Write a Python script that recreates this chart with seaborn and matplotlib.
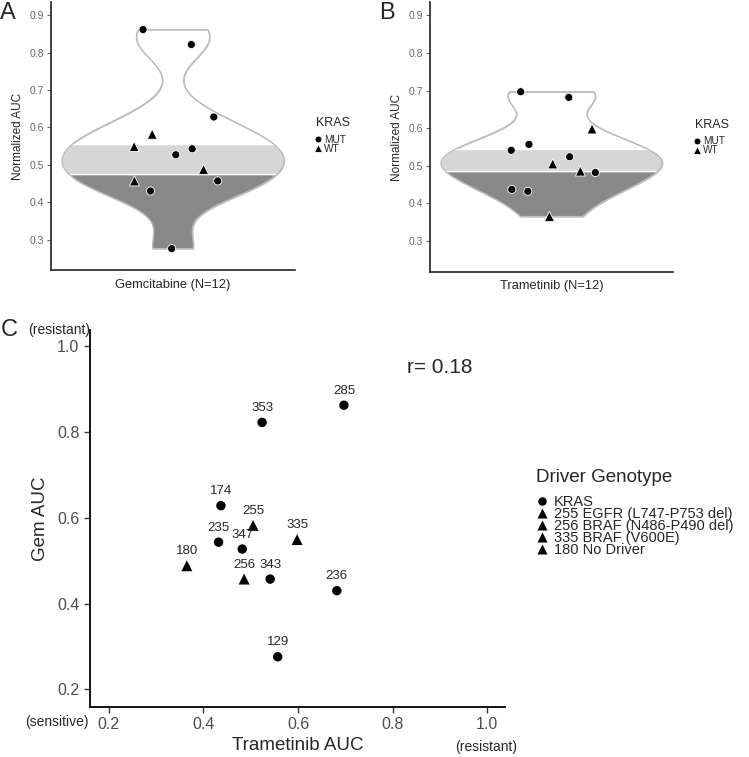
import numpy as np
import pandas as pd
import seaborn as sns
import matplotlib.pyplot as plt
from matplotlib.patches import Rectangle, PathPatch


# values, one entry per cell line
samples = ['285', '353', '174', '255', '235', '347', '335', '180', '256', '343', '236', '129']
gem_auc = [0.862, 0.822, 0.628, 0.582, 0.543, 0.527, 0.549, 0.488, 0.457, 0.457, 0.430, 0.276]
tram_auc = [0.697, 0.524, 0.437, 0.505, 0.432, 0.482, 0.598, 0.365, 0.486, 0.541, 0.682, 0.557]
kras = ['MUT', 'MUT', 'MUT', 'WT', 'MUT', 'MUT', 'WT', 'WT', 'WT', 'MUT', 'MUT', 'MUT']
driver = ['KRAS', 'KRAS', 'KRAS', '255 EGFR (L747-P753 del)', 'KRAS', 'KRAS',
          '335 BRAF (V600E)', '180 No Driver', '256 BRAF (N486-P490 del)', 'KRAS', 'KRAS', 'KRAS']
driver_order = ['KRAS', '255 EGFR (L747-P753 del)', '256 BRAF (N486-P490 del)',
                '335 BRAF (V600E)', '180 No Driver']

# horizontal jitter of the dots inside the violins
jitter_gem = [-0.108, 0.066, 0.147, -0.075, 0.069, 0.010, -0.140, 0.110, -0.139, 0.161, -0.081, -0.005]
jitter_tram = [-0.112, 0.065, -0.144, 0.004, -0.086, 0.158, 0.146, -0.008, 0.104, -0.146, 0.062, -0.082]

# shaded bands of the violins: (low, mid, high)
gem_bands = [0.276, 0.476, 0.556]
tram_bands = [0.365, 0.485, 0.545]

r_value = 0.18

df = pd.DataFrame({
    'sample': samples,
    'gem': gem_auc,
    'tram': tram_auc,
    'KRAS': kras,
    'Driver Genotype': driver,
    'jit_gem': jitter_gem,
    'jit_tram': jitter_tram,
})


def nrd0_factor(kde):
    # R's bw.nrd0 expressed as a scipy bandwidth factor
    x = kde.dataset.ravel()
    sd = x.std(ddof=1)
    q75, q25 = np.percentile(x, [75, 25])
    h = 0.9 * min(sd, (q75 - q25) / 1.34) * len(x) ** -0.2
    return h / sd


def violin_panel(ax, col, jcol, bands, xlabel, letter, leg_x, title_y, leg_y):
    sns.violinplot(y=df[col], ax=ax, cut=0, inner=None, color='white',
                   linecolor='#bcbcbc', linewidth=0.9, bw_method=nrd0_factor)
    poly = ax.collections[0]
    path = poly.get_paths()[0]
    lo, mid, hi = bands
    for y0, y1, fc in [(lo, mid, '#898989'), (mid, hi, '#d6d6d6')]:
        r = Rectangle((-0.5, y0), 1.0, y1 - y0, facecolor=fc, edgecolor='white',
                      linewidth=1, zorder=1.5)
        ax.add_patch(r)
        r.set_clip_path(path, ax.transData)
    ax.add_patch(PathPatch(path, facecolor='none', edgecolor='#bcbcbc', linewidth=0.9, zorder=2))

    sns.scatterplot(data=df, x=jcol, y=col, style='KRAS', style_order=['MUT', 'WT'],
                    markers={'MUT': 'o', 'WT': '^'}, size='KRAS', size_order=['MUT', 'WT'],
                    sizes={'MUT': 34, 'WT': 52}, color='black', edgecolor='white',
                    linewidth=0.6, ax=ax, zorder=3)

    ax.set_xlim(-0.44, 0.44)
    ax.set_ylim(0.218, 0.935)
    ax.set_yticks([0.3, 0.4, 0.5, 0.6, 0.7, 0.8, 0.9])
    ax.set_xticks([])
    ax.set_xlabel(xlabel, fontsize=9.3, labelpad=6)
    ax.set_ylabel('Normalized AUC', fontsize=8.5, labelpad=4)
    ax.tick_params(axis='y', labelsize=7.5, labelcolor='#666666', color='#666666',
                   length=3, width=0.8, pad=2)
    for s in ['top', 'right']:
        ax.spines[s].set_visible(False)
    for s in ['left', 'bottom']:
        ax.spines[s].set_color('#222222')
        ax.spines[s].set_linewidth(1.2)

    h, l = ax.get_legend_handles_labels()
    ax.legend(h, l, loc='upper left', bbox_to_anchor=(leg_x, leg_y),
              frameon=False, fontsize=7.2, handletextpad=0.1, handlelength=1.0,
              labelspacing=-0.1, borderpad=0, borderaxespad=0, markerscale=0.85)
    ax.text(leg_x + 0.01, title_y, 'KRAS', transform=ax.transAxes, fontsize=9, va='center', ha='left')
    ax.text(-0.21, 1.0, letter, transform=ax.transAxes, fontsize=17, va='top', ha='left')


sns.set_style('ticks')
plt.rcParams['font.family'] = ['Liberation Sans', 'DejaVu Sans']

fig = plt.figure(figsize=(7.49, 7.57), dpi=100)
ax_a = fig.add_axes([0.068, 0.643, 0.326, 0.354])
ax_b = fig.add_axes([0.574, 0.641, 0.325, 0.356])
ax_c = fig.add_axes([0.120, 0.066, 0.554, 0.498])

violin_panel(ax_a, 'gem', 'jit_gem', gem_bands, 'Gemcitabine (N=12)', 'A', 1.074, 0.549, 0.505)
violin_panel(ax_b, 'tram', 'jit_tram', tram_bands, 'Trametinib (N=12)', 'B', 1.078, 0.546, 0.503)

# panel C: Trametinib vs Gemcitabine AUC
tri_size = 62
sns.scatterplot(data=df, x='tram', y='gem', style='Driver Genotype', style_order=driver_order,
                markers={'KRAS': 'o', '255 EGFR (L747-P753 del)': '^', '256 BRAF (N486-P490 del)': '^',
                         '335 BRAF (V600E)': '^', '180 No Driver': '^'},
                size='Driver Genotype', size_order=driver_order,
                sizes={'KRAS': 46, '255 EGFR (L747-P753 del)': tri_size,
                       '256 BRAF (N486-P490 del)': tri_size, '335 BRAF (V600E)': tri_size,
                       '180 No Driver': tri_size},
                color='black', edgecolor='none', ax=ax_c)
for _, row in df.iterrows():
    ax_c.annotate(row['sample'], (row['tram'], row['gem']), xytext=(0, 6),
                  textcoords='offset points', ha='center', va='bottom', fontsize=9.5)

ax_c.set_xlim(0.16, 1.037)
ax_c.set_ylim(0.159, 1.037)
ax_c.set_xticks([0.2, 0.4, 0.6, 0.8, 1.0])
ax_c.set_yticks([0.2, 0.4, 0.6, 0.8, 1.0])
ax_c.set_xlabel('Trametinib AUC', fontsize=13.5, labelpad=3)
ax_c.set_ylabel('Gem AUC', fontsize=13.5, labelpad=6)
ax_c.tick_params(labelsize=11.5, labelcolor='#4d4d4d', length=4, width=1, color='#333333')
for s in ['top', 'right']:
    ax_c.spines[s].set_visible(False)
for s in ['left', 'bottom']:
    ax_c.spines[s].set_color('black')
    ax_c.spines[s].set_linewidth(1.3)

ax_c.text(0.765, 0.9, 'r= %.2f' % r_value, transform=ax_c.transAxes, fontsize=15, ha='left', va='center')
ax_c.text(-0.15, 1.0, '(resistant)', transform=ax_c.transAxes, fontsize=10, ha='left', va='center')
ax_c.text(-0.155, -0.04, '(sensitive)', transform=ax_c.transAxes, fontsize=10, ha='left', va='center')
ax_c.text(0.88, -0.106, '(resistant)', transform=ax_c.transAxes, fontsize=10, ha='left', va='center')
ax_c.text(-0.215, 1.0, 'C', transform=ax_c.transAxes, fontsize=17, ha='left', va='center')

h, l = ax_c.get_legend_handles_labels()
ax_c.legend(h, l, loc='upper left', bbox_to_anchor=(1.071, 0.563),
            frameon=False, fontsize=10.5, handletextpad=0.35, handlelength=1.0,
            labelspacing=-0.14, borderpad=0, borderaxespad=0, markerscale=0.9)
ax_c.text(1.075, 0.61, 'Driver Genotype', transform=ax_c.transAxes, fontsize=13.5, ha='left', va='center')

fig.savefig('out.png', dpi=100)
